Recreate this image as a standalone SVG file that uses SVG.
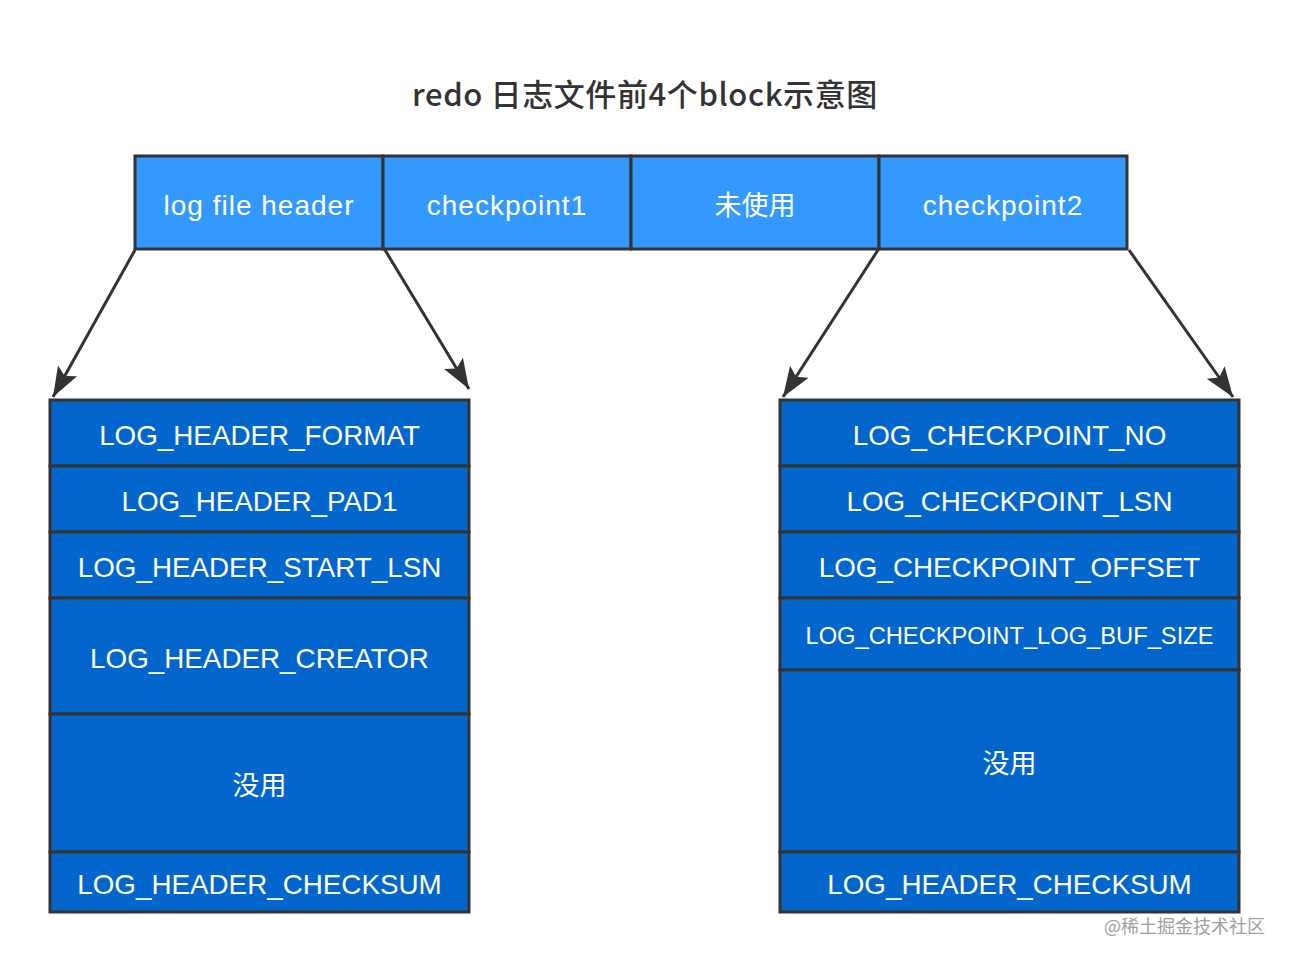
<svg xmlns="http://www.w3.org/2000/svg" width="1290" height="962" viewBox="0 0 1290 962">
<style>
.top rect{fill:#3399ff;stroke:#333;stroke-width:3}
.cell rect{fill:#0366cc;stroke:#333;stroke-width:3}
text{font-family:"Liberation Sans","Noto Sans CJK SC",sans-serif;fill:#fff;text-anchor:middle}
.t{font-size:27.8px}
.lw{font-size:28px;letter-spacing:1px}
.s{font-size:23.7px}
.cjk{font-family:"Noto Sans CJK SC",sans-serif;font-size:27px}
.title{font-size:31px;letter-spacing:0.6px;fill:#333;font-weight:500;font-family:"Noto Sans CJK SC",sans-serif}
.wm{font-size:18px;fill:#a0a0a0;text-anchor:start;font-family:"Noto Sans CJK SC",sans-serif}
.conn line{stroke:#333;stroke-width:3}
</style>
<defs>
<marker id="ah" markerUnits="userSpaceOnUse" markerWidth="32" markerHeight="24" refX="30" refY="11" orient="auto">
<path d="M0,0 L30,11 L0,22 L6,11 z" fill="#333"/>
</marker>
</defs>
<rect width="1290" height="962" fill="#fff"/>
<text class="title" x="645" y="106">redo 日志文件前4个block示意图</text>

<g id="top-log-file-header" class="top"><rect x="135" y="156" width="248" height="93"/><text class="lw" x="259" y="215">log file header</text></g>
<g id="top-checkpoint1" class="top"><rect x="383" y="156" width="248" height="93"/><text class="lw" x="507" y="215">checkpoint1</text></g>
<g id="top-unused" class="top"><rect x="631" y="156" width="248" height="93"/><text class="cjk" x="755" y="215">未使用</text></g>
<g id="top-checkpoint2" class="top"><rect x="879" y="156" width="248" height="93"/><text class="lw" x="1003" y="215">checkpoint2</text></g>

<g id="l-format" class="cell"><rect x="50" y="400" width="419" height="66"/><text class="t" x="259.5" y="445">LOG_HEADER_FORMAT</text></g>
<g id="l-pad1" class="cell"><rect x="50" y="466" width="419" height="66"/><text class="t" x="259.5" y="511">LOG_HEADER_PAD1</text></g>
<g id="l-start-lsn" class="cell"><rect x="50" y="532" width="419" height="66"/><text class="t" x="259.5" y="577">LOG_HEADER_START_LSN</text></g>
<g id="l-creator" class="cell"><rect x="50" y="598" width="419" height="116"/><text class="t" x="259.5" y="668">LOG_HEADER_CREATOR</text></g>
<g id="l-unused" class="cell"><rect x="50" y="714" width="419" height="138"/><text class="cjk" x="259.5" y="795">没用</text></g>
<g id="l-checksum" class="cell"><rect x="50" y="852" width="419" height="60"/><text class="t" x="259.5" y="894">LOG_HEADER_CHECKSUM</text></g>

<g id="r-no" class="cell"><rect x="780" y="400" width="459" height="66"/><text class="t" x="1009.5" y="445">LOG_CHECKPOINT_NO</text></g>
<g id="r-lsn" class="cell"><rect x="780" y="466" width="459" height="66"/><text class="t" x="1009.5" y="511">LOG_CHECKPOINT_LSN</text></g>
<g id="r-offset" class="cell"><rect x="780" y="532" width="459" height="66"/><text class="t" x="1009.5" y="577">LOG_CHECKPOINT_OFFSET</text></g>
<g id="r-bufsize" class="cell"><rect x="780" y="598" width="459" height="72"/><text class="s" x="1009.5" y="644">LOG_CHECKPOINT_LOG_BUF_SIZE</text></g>
<g id="r-unused" class="cell"><rect x="780" y="670" width="459" height="182"/><text class="cjk" x="1009.5" y="773">没用</text></g>
<g id="r-checksum" class="cell"><rect x="780" y="852" width="459" height="60"/><text class="t" x="1009.5" y="894">LOG_HEADER_CHECKSUM</text></g>

<g id="connectors" class="conn">
<line x1="135" y1="250" x2="53" y2="397" marker-end="url(#ah)"/>
<line x1="385" y1="250" x2="469" y2="389" marker-end="url(#ah)"/>
<line x1="878" y1="250" x2="783" y2="397" marker-end="url(#ah)"/>
<line x1="1129" y1="250" x2="1233" y2="397" marker-end="url(#ah)"/>
</g>

<text class="wm" x="1104" y="933">@稀土掘金技术社区</text>
</svg>
